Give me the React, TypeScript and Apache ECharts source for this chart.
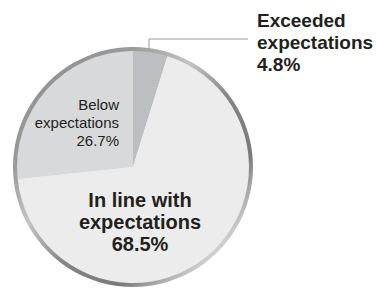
import React, { useEffect, useRef } from "react";
import * as echarts from "echarts";

const categories = ["Exceeded\nexpectations", "In line with\nexpectations", "Below\nexpectations"];
const values = [4.8, 68.5, 26.7];
const colors = ["#bdbec1", "#ececec", "#d8d9db"];

export default function App() {
  const ref = useRef<HTMLDivElement>(null);
  useEffect(() => {
    document.body.style.margin = "0";
    const chart = echarts.init(ref.current!, null, { renderer: "svg" });
    const cx = 133;
    const cy = 167;
    const font = "'Liberation Sans', Arial, sans-serif";
    const data = categories.map((name, i) => {
      const base: any = {
        name,
        value: values[i],
        itemStyle: { color: colors[i] },
      };
      if (i === 0) {
        base.label = {
          position: "outside",
          fontSize: 19,
          fontWeight: "bold",
          lineHeight: 22,
          align: "left",
        };
        base.labelLine = { show: true, lineStyle: { color: "#9a9a9a", width: 1 } };
      } else if (i === 1) {
        base.label = { position: "inside", fontSize: 20, fontWeight: "bold", lineHeight: 22, align: "center" };
      } else {
        base.label = { position: "inside", fontSize: 15, fontWeight: "normal", lineHeight: 18, align: "right" };
      }
      return base;
    });
    chart.setOption({
      animation: false,
      series: [
        {
          type: "pie",
          silent: true,
          center: [cx, cy],
          radius: [115, 120],
          startAngle: 90,
          label: { show: false },
          labelLine: { show: false },
          data: [
            {
              value: 1,
              itemStyle: {
                color: new echarts.graphic.LinearGradient(0, 0, 1, 1, [
                  { offset: 0, color: "#8a8a8a" },
                  { offset: 0.25, color: "#9a9a9a" },
                  { offset: 0.4, color: "#c4c4c4" },
                  { offset: 0.55, color: "#858585" },
                  { offset: 0.72, color: "#7a7a7a" },
                  { offset: 0.85, color: "#d0d0d0" },
                  { offset: 1, color: "#6e6e6e" },
                ]),
              },
            },
          ],
        },
        {
          type: "pie",
          center: [cx, cy],
          radius: [0, 116],
          startAngle: 90,
          clockwise: true,
          avoidLabelOverlap: false,
          itemStyle: { borderWidth: 0 },
          label: {
            show: true,
            color: "#231f20",
            fontFamily: font,
            formatter: (p: any) => `${p.name}\n${p.value}%`,
          },
          labelLayout: (p: any) => {
            if (p.dataIndex === 0) {
              return {
                x: cx + 124,
                y: cy - 125,
                align: "left",
                verticalAlign: "middle",
                labelLinePoints: [
                  [cx + 16, cy - 95],
                  [cx + 16, cy - 128],
                  [cx + 115, cy - 128],
                ],
              };
            }
            if (p.dataIndex === 1) {
              return { x: cx + 7, y: cy + 55, align: "center", verticalAlign: "middle" };
            }
            return { x: cx - 14, y: cy - 45, align: "right", verticalAlign: "middle" };
          },
          data,
        },
      ],
    });
    return () => chart.dispose();
  }, []);
  return (
    <div
      ref={ref}
      style={{ position: "fixed", left: 0, top: 0, width: 376, height: 289, background: "#fff" }}
    />
  );
}
